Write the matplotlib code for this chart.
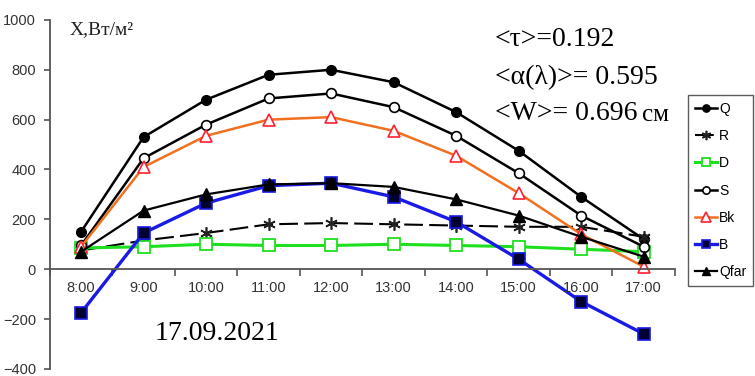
import numpy as np
import matplotlib.pyplot as plt

hours = ["8:00", "9:00", "10:00", "11:00", "12:00", "13:00", "14:00", "15:00", "16:00", "17:00"]
Q = [150, 530, 680, 780, 800, 750, 630, 475, 290, 120]
R = [75, 115, 145, 180, 185, 180, 175, 170, 170, 130]
D = [85, 90, 100, 95, 95, 100, 95, 90, 80, 70]
S = [95, 445, 580, 685, 705, 650, 535, 385, 215, 90]
Bk = [90, 410, 535, 600, 610, 555, 455, 305, 140, 10]
B = [-175, 145, 265, 335, 345, 290, 190, 40, -130, -260]
Qfar = [70, 235, 300, 340, 345, 330, 280, 215, 130, 50]

plt.rcParams['font.family'] = ['Liberation Sans', 'DejaVu Sans']

fig = plt.figure(figsize=(7.55, 3.76), dpi=100)
ax = fig.add_axes([0.066, 0.019, 0.828, 0.928])
x = np.arange(1, len(hours) + 1)

ax.plot(x, Q, color='black', lw=1.8, marker='o', ms=7, mfc='black', mec='black', label='Q')
ax.plot(x, R, color='black', lw=1.5, ls=(0, (9, 3)), marker=(6, 2, 0), ms=9, mec='#222222', mew=1.2, label='R')
ax.plot(x, D, color='#1ee01e', lw=2.2, marker='s', ms=8, mfc='white', mec='#1ee01e', mew=1.3, label='D')
ax.plot(x, S, color='black', lw=1.8, marker='o', ms=7, mfc='white', mec='black', mew=1.2, label='S')
ax.plot(x, Bk, color='#f07020', lw=1.8, marker='^', ms=9, mfc='white', mec='#ff2030', mew=1.2, label='Bk')
ax.plot(x, B, color='#1a1ae6', lw=2.4, marker='s', ms=8, mfc='#000033', mec='#1a1ae6', mew=1.2, label='B')
ax.plot(x, Qfar, color='black', lw=1.6, marker='^', ms=8, mfc='black', mec='black', label='Qfar')

ax.set_xlim(0.5, 10.5)
ax.set_ylim(-400, 1000)
ax.set_yticks(range(-400, 1001, 200))
ax.spines['top'].set_visible(False)
ax.spines['right'].set_visible(False)
ax.spines['bottom'].set_position(('data', 0))
for sp in ('left', 'bottom'):
    ax.spines[sp].set_color('#555555')
    ax.spines[sp].set_linewidth(1.3)

# category labels sit below the axis line, ticks go between categories
ax.set_xticks(np.arange(0.5, 10.6, 1))
ax.set_xticklabels([])
ax.tick_params(axis='x', direction='out', length=5, color='#555555', width=1.2)
ax.tick_params(axis='y', direction='out', length=4, color='#555555', width=1.2,
               labelsize=10.5, labelcolor='#333333', pad=6)
for xi, h in zip(x, hours):
    ax.text(xi, -75, h, ha='center', va='center', fontsize=10.5, color='#333333')

serif = 'Liberation Serif'
fig.text(70 / 755, 1 - 30 / 376, "X,Вт/м²", fontsize=14, family=serif,
         color='#222222', va='center')
fig.text(495 / 755, 1 - 40 / 376, "<τ>=0.192", fontsize=20, family=serif, va='center')
fig.text(495 / 755, 1 - 78 / 376, "<α(λ)>= 0.595", fontsize=20, family=serif, va='center')
fig.text(495 / 755, 1 - 113 / 376, "<W>= 0.696", fontsize=20, family=serif, va='center')
fig.text(642 / 755, 1 - 115 / 376, "см", fontsize=18, family=serif, va='center')
fig.text(155 / 755, 1 - 334 / 376, "17.09.2021", fontsize=20, family=serif, va='center')

leg = ax.legend(loc='upper left', bbox_to_anchor=(688 / 755, 1 - 95 / 376),
                bbox_transform=fig.transFigure, fontsize=10, frameon=True,
                fancybox=False, edgecolor='#333333', handlelength=1.6,
                handletextpad=0.15, labelspacing=0.95, borderpad=0.5,
                borderaxespad=0, markerscale=0.75)
leg.get_frame().set_linewidth(1.0)

fig.savefig("out.png", dpi=100)
